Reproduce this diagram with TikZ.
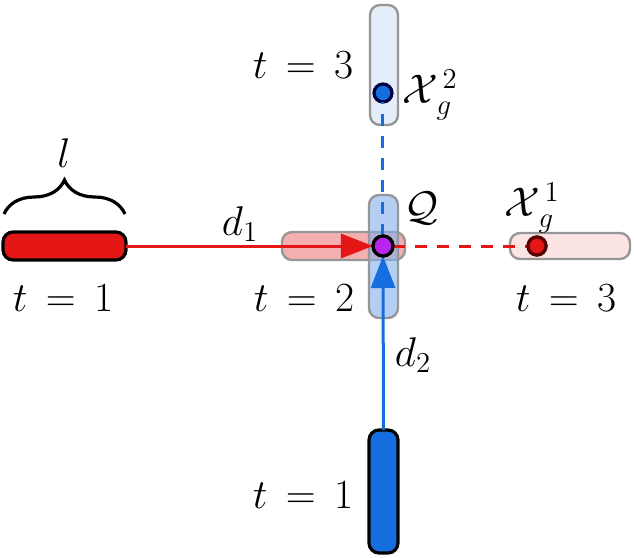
\documentclass[tikz,border=0pt]{standalone}
\usetikzlibrary{arrows.meta,decorations.pathreplacing}
\definecolor{myred}{RGB}{228,22,22}
\definecolor{myblue}{RGB}{20,110,222}
\definecolor{lred}{RGB}{240,150,150}
\definecolor{llred}{RGB}{252,228,228}
\definecolor{lblue}{RGB}{130,175,235}
\definecolor{llblue}{RGB}{228,238,250}
\definecolor{bordergray}{RGB}{150,150,150}
\definecolor{qpurple}{RGB}{185,35,235}
\begin{document}
\begin{tikzpicture}[x=0.5pt,y=-0.5pt,
  bar/.style={rectangle,rounded corners=5pt,inner sep=0pt,outer sep=0pt},
  hbar/.style={bar,minimum width=61.5pt,minimum height=14pt},
  vbar/.style={bar,minimum width=14.5pt,minimum height=61.5pt},
  solidbar/.style={draw=black,line width=1.6pt},
  ghostbar/.style={draw=bordergray,line width=1.2pt},
  pt/.style={circle,inner sep=0pt,outer sep=0pt,minimum size=9pt,line width=1.6pt},
  lbl/.style={font=\fontsize{20}{24}\selectfont,inner sep=0pt},
  tip/.style={-{Triangle[length=16pt,width=12pt]}},
  conn/.style={line width=1.5pt}]
\useasboundingbox (0,0) rectangle (634,558);
% bars
\node[hbar,solidbar,fill=myred] (r1) at (64.5,246) {};
\node[hbar,ghostbar,fill=lred,fill opacity=0.75] (r2) at (343.5,246) {};
\node[hbar,ghostbar,fill=llred,minimum width=60pt,minimum height=13pt] (r3) at (570,246) {};
\node[vbar,ghostbar,fill=llblue,minimum width=14pt,minimum height=60pt] (b3) at (384,65) {};
\node[vbar,ghostbar,fill=lblue,fill opacity=0.6] (b2) at (383.5,256.5) {};
\node[vbar,solidbar,fill=myblue] (b1) at (383.5,491.5) {};
% points
\node[pt,minimum size=10pt,fill=qpurple,draw=black] (Q) at (383,246) {};
\node[pt,fill=myred,draw=red!35!black] (X1) at (537,246) {};
\node[pt,fill=myblue,draw=blue!25!black] (X2) at (383,93) {};
% connectors
\draw[myred,conn,tip] (r1.east) -- (Q.west);
\draw[myblue,conn,tip] (b1.north) -- (Q.south);
\draw[myred,conn,dash pattern=on 6pt off 5pt] (Q.east) -- (X1.west);
\draw[myblue,conn,dash pattern=on 6pt off 5pt] (Q.north) -- (X2.south);
% redraw points on top
\node[pt,minimum size=10pt,fill=qpurple,draw=black] at (Q) {};
\node[pt,fill=myred,draw=red!35!black] at (X1) {};
% brace
\coordinate (bl) at (4,214);
\coordinate (br) at (125,214);
\draw[line width=1.6pt,decorate,decoration={brace,amplitude=17pt}] (bl) -- (br);
\node[lbl] (ll) at (64,153) {$l$};
% labels
\node[lbl] (t1r) at (63,298) {$t\,=\,1$};
\node[lbl] (t2r) at (304,298) {$t\,=\,2$};
\node[lbl] (t3r) at (566,298) {$t\,=\,3$};
\node[lbl] (t3b) at (303,65) {$t\,=\,3$};
\node[lbl] (t1b) at (303,495) {$t\,=\,1$};
\node[lbl] (d1) at (240,224) {$d_1$};
\node[lbl] (d2) at (413,355) {$d_2$};
\node[lbl] (Ql) at (421,208) {$\mathcal{Q}$};
\node[lbl] (X1l) at (532,208) {$\mathcal{X}_{\,g}^{\,1}$};
\node[lbl] (X2l) at (430,95) {$\mathcal{X}_{\,g}^{\,2}$};
\end{tikzpicture}
\end{document}
